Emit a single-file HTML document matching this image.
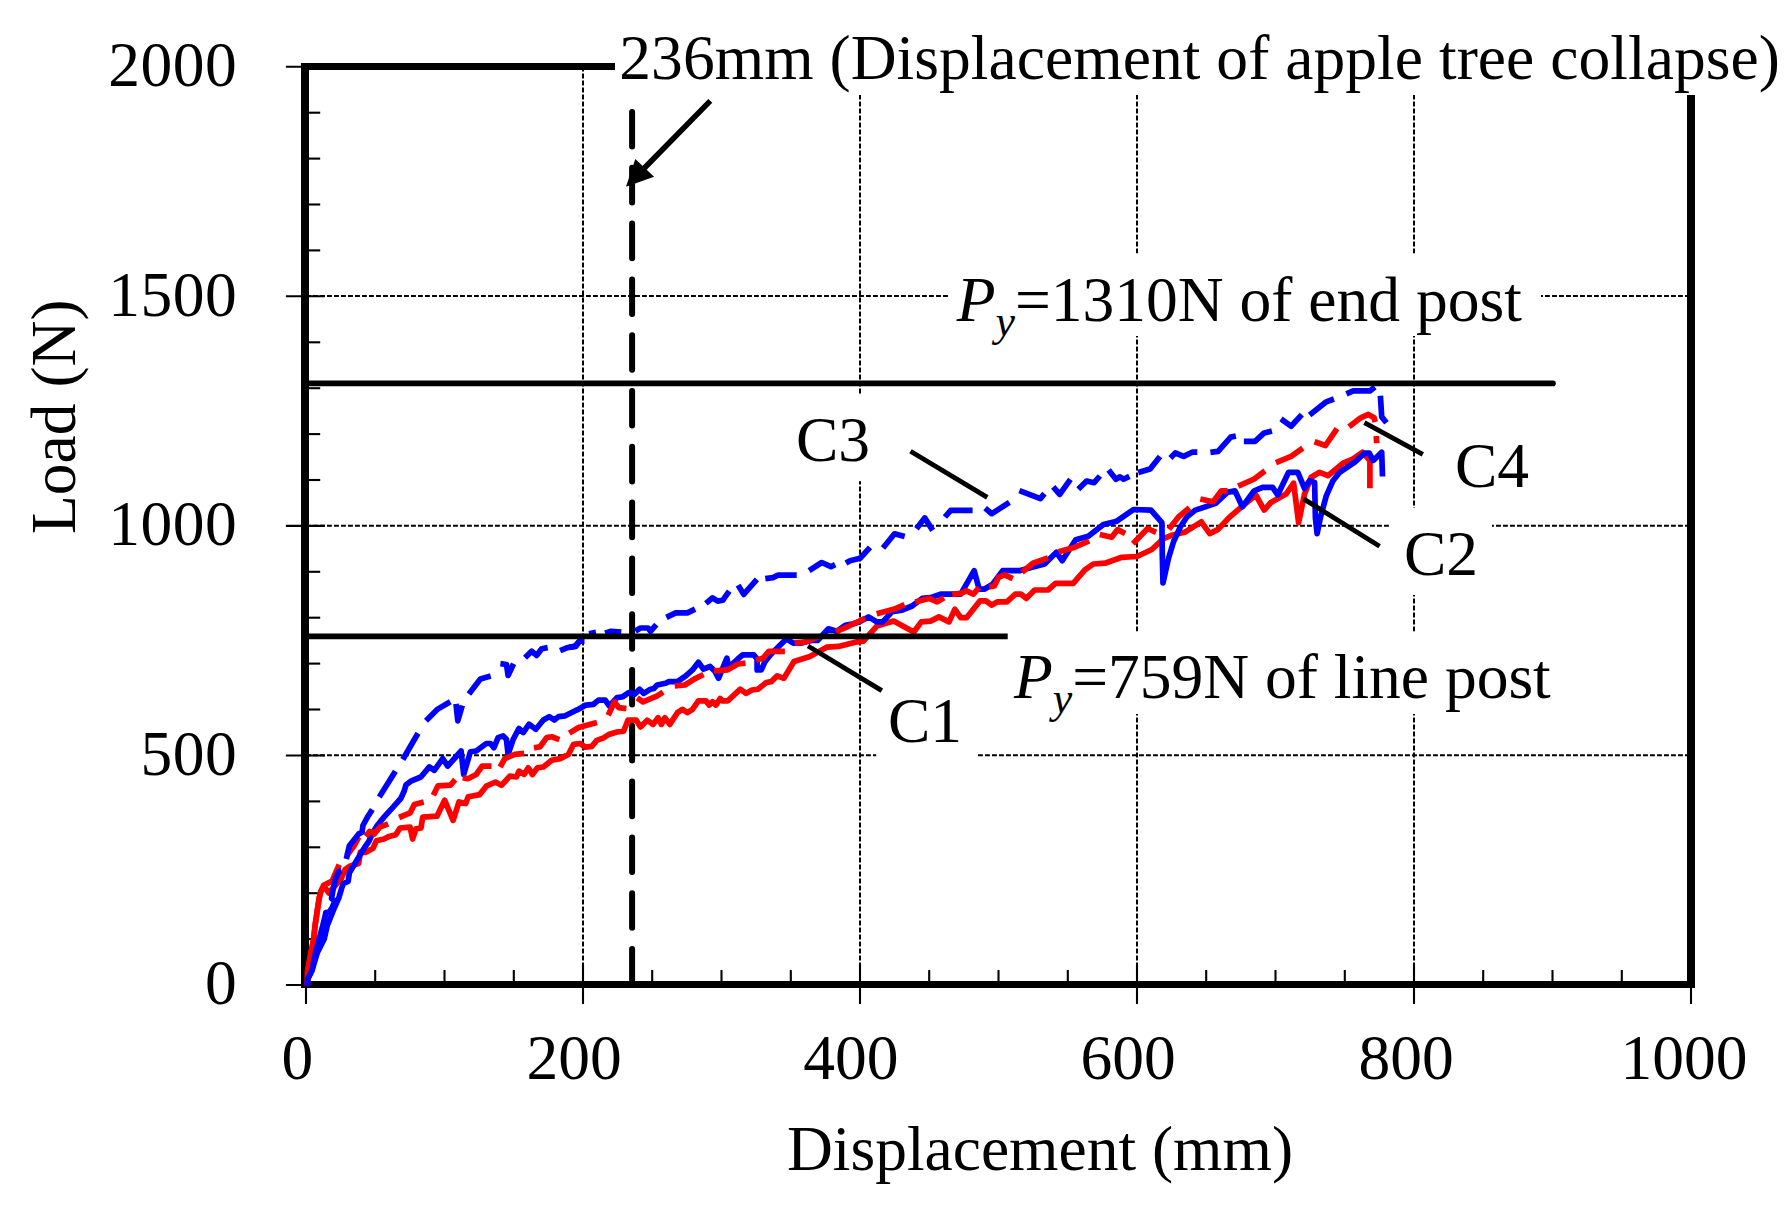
<!DOCTYPE html><html><head><meta charset="utf-8"><title>Load-Displacement</title>
<style>html,body{margin:0;padding:0;background:#fff}body{width:1788px;height:1211px;overflow:hidden}svg{display:block}text{font-family:"Liberation Serif","Times New Roman",serif;fill:#000}</style></head><body>
<svg width="1788" height="1211" viewBox="0 0 1788 1211">
<rect width="1788" height="1211" fill="#fff"/>
<g stroke="#000" stroke-width="2" stroke-dasharray="4.9 2.1" fill="none">
<line x1="583.0" y1="66.6" x2="583.0" y2="984.8"/>
<line x1="860.0" y1="66.6" x2="860.0" y2="984.8"/>
<line x1="1137.0" y1="66.6" x2="1137.0" y2="984.8"/>
<line x1="1414.0" y1="66.6" x2="1414.0" y2="984.8"/>
<line x1="306.0" y1="755.2" x2="1691.0" y2="755.2"/>
<line x1="306.0" y1="525.7" x2="1691.0" y2="525.7"/>
<line x1="306.0" y1="296.1" x2="1691.0" y2="296.1"/>
</g>
<path d="M301,63H1695V988H301Z M309,70V981H1687V70Z" fill="#000" fill-rule="evenodd"/>
<g stroke="#000" stroke-width="2.1" fill="none">
<line x1="285.9" y1="985.0" x2="324.9" y2="985.0"/>
<line x1="308" y1="939.1" x2="320.2" y2="939.1"/>
<line x1="308" y1="893.2" x2="320.2" y2="893.2"/>
<line x1="308" y1="847.3" x2="320.2" y2="847.3"/>
<line x1="308" y1="801.4" x2="320.2" y2="801.4"/>
<line x1="285.9" y1="755.5" x2="324.9" y2="755.5"/>
<line x1="308" y1="709.5" x2="320.2" y2="709.5"/>
<line x1="308" y1="663.6" x2="320.2" y2="663.6"/>
<line x1="308" y1="617.7" x2="320.2" y2="617.7"/>
<line x1="308" y1="571.8" x2="320.2" y2="571.8"/>
<line x1="285.9" y1="525.9" x2="324.9" y2="525.9"/>
<line x1="308" y1="480.0" x2="320.2" y2="480.0"/>
<line x1="308" y1="434.1" x2="320.2" y2="434.1"/>
<line x1="308" y1="388.2" x2="320.2" y2="388.2"/>
<line x1="308" y1="342.3" x2="320.2" y2="342.3"/>
<line x1="285.9" y1="296.3" x2="324.9" y2="296.3"/>
<line x1="308" y1="250.4" x2="320.2" y2="250.4"/>
<line x1="308" y1="204.5" x2="320.2" y2="204.5"/>
<line x1="308" y1="158.6" x2="320.2" y2="158.6"/>
<line x1="308" y1="112.7" x2="320.2" y2="112.7"/>
<line x1="285.9" y1="66.8" x2="324.9" y2="66.8"/>
<line x1="306.0" y1="964.5" x2="306.0" y2="1004"/>
<line x1="375.2" y1="970" x2="375.2" y2="982"/>
<line x1="444.5" y1="970" x2="444.5" y2="982"/>
<line x1="513.8" y1="970" x2="513.8" y2="982"/>
<line x1="583.0" y1="964.5" x2="583.0" y2="1004"/>
<line x1="652.2" y1="970" x2="652.2" y2="982"/>
<line x1="721.5" y1="970" x2="721.5" y2="982"/>
<line x1="790.8" y1="970" x2="790.8" y2="982"/>
<line x1="860.0" y1="964.5" x2="860.0" y2="1004"/>
<line x1="929.2" y1="970" x2="929.2" y2="982"/>
<line x1="998.5" y1="970" x2="998.5" y2="982"/>
<line x1="1067.8" y1="970" x2="1067.8" y2="982"/>
<line x1="1137.0" y1="964.5" x2="1137.0" y2="1004"/>
<line x1="1206.2" y1="970" x2="1206.2" y2="982"/>
<line x1="1275.5" y1="970" x2="1275.5" y2="982"/>
<line x1="1344.8" y1="970" x2="1344.8" y2="982"/>
<line x1="1414.0" y1="964.5" x2="1414.0" y2="1004"/>
<line x1="1483.2" y1="970" x2="1483.2" y2="982"/>
<line x1="1552.5" y1="970" x2="1552.5" y2="982"/>
<line x1="1621.8" y1="970" x2="1621.8" y2="982"/>
<line x1="1691.0" y1="964.5" x2="1691.0" y2="1004"/>
</g>
<line x1="632.1" y1="56.2" x2="632.1" y2="980" stroke="#000" stroke-width="6" stroke-linecap="round" stroke-dasharray="34.6 21.2"/>
<g fill="none" stroke-width="5.7" stroke-linejoin="round" stroke-linecap="butt">
<polyline stroke="#f00" points="307.4,985.2 307.6,971.0 311.0,952.7 313.7,939.0 315.1,925.4 317.8,907.2 319.2,898.2 320.7,891.8 324.0,886.0 328.7,893.0 334.0,887.0 341.3,878.5 345.2,869.3 350.3,865.9 358.7,863.4 360.4,852.0 365.4,852.4 373.0,848.2 376.4,840.7 384.0,839.0 389.0,836.4 395.8,834.8 400.0,828.0 410.1,827.2 412.6,839.0 416.0,828.9 421.0,828.0 422.7,817.1 437.0,816.2 444.6,800.2 453.1,820.4 459.0,801.9 465.7,803.6 468.2,796.8 479.6,794.6 486.3,786.2 495.5,782.0 501.4,785.4 509.8,776.2 516.5,777.0 519.0,771.1 524.1,774.5 528.3,767.8 532.4,774.5 537.5,767.8 543.4,767.0 551.7,760.2 560.1,758.6 568.5,754.4 573.6,744.3 580.3,743.5 585.1,747.1 591.8,746.3 596.8,740.4 603.6,737.9 608.6,734.5 617.0,732.0 623.7,731.1 627.9,720.2 636.3,720.2 640.5,726.9 647.2,720.2 653.1,724.4 658.1,717.7 661.4,724.4 664.8,717.7 669.8,724.4 677.4,712.7 682.4,709.3 687.4,712.7 692.5,709.3 698.4,700.9 705.9,700.9 709.3,705.1 712.6,701.8 716.0,705.1 720.2,698.4 722.7,700.9 727.7,700.9 740.3,689.2 746.2,693.4 752.0,690.0 757.9,689.2 766.3,682.5 771.3,681.6 777.2,675.8 783.9,678.3 794.0,661.5 809.9,656.5 826.7,647.2 838.5,646.4 855.2,642.2 863.4,641.2 876.8,626.1 893.6,621.1 913.8,632.0 921.3,621.9 930.5,621.1 938.9,616.9 949.0,621.9 954.9,609.3 960.7,617.7 966.6,617.7 980.0,600.9 985.9,600.9 991.8,605.1 997.7,601.8 1006.9,601.8 1015.3,594.2 1021.1,594.2 1026.2,598.4 1034.6,590.0 1048.0,590.0 1055.5,583.3 1073.2,583.3 1084.9,569.9 1093.3,564.0 1105.0,563.2 1121.8,557.3 1136.9,556.5 1151.8,549.5 1163.6,538.6 1172.0,535.2 1185.4,531.9 1201.3,521.8 1209.7,533.6 1218.1,529.4 1229.0,517.6 1240.7,507.6 1255.8,495.0 1264.2,510.1 1270.9,502.5 1286.0,494.1 1293.6,483.2 1298.6,522.7 1304.5,494.1 1311.2,477.3 1319.6,472.3 1328.0,475.7 1343.1,463.1 1353.2,458.9 1362.4,452.2 1369.9,460.6 1369.9,488.3"/>
<polyline stroke="#00f" points="307.4,985.2 307.7,979.0 311.9,970.8 317.3,952.7 324.2,939.0 327.3,925.4 331.0,916.3 334.5,907.5 338.7,898.2 341.4,889.1 343.2,883.6 348.1,881.5 349.4,872.7 354.5,864.2 359.5,855.8 364.6,847.4 368.8,841.5 372.2,833.9 377.2,825.5 384.0,817.1 392.4,807.8 400.8,798.5 404.2,791.0 405.9,785.1 410.8,781.2 420.9,777.0 429.3,766.9 434.3,770.3 442.7,758.6 447.7,766.1 461.1,751.0 463.7,774.5 470.4,751.8 476.2,751.0 486.3,743.5 490.5,743.5 493.9,747.7 498.1,737.6 503.1,735.9 506.4,739.3 508.1,754.4 513.2,739.3 519.0,728.4 523.2,732.6 529.1,724.2 535.8,729.2 543.4,720.0 549.2,716.6 554.3,720.0 558.5,716.6 565.2,715.8 575.2,710.7 578.4,709.3 585.9,705.1 593.5,704.3 598.5,700.1 605.2,700.1 609.4,706.0 617.0,697.6 622.9,696.7 628.7,692.6 634.6,694.2 639.6,689.2 643.8,693.4 650.5,689.2 653.9,688.4 657.2,685.0 665.6,683.3 669.0,681.6 677.4,681.6 685.8,675.8 692.5,669.9 698.4,662.3 703.4,669.1 710.1,666.5 715.1,671.6 718.5,678.3 726.9,658.2 728.6,667.4 737.8,659.0 742.8,654.8 753.7,654.8 757.1,659.0 757.1,669.9 761.3,669.9 764.6,662.3 770.5,654.8 779.7,645.6 786.4,638.9 793.2,643.1 801.5,643.1 811.6,640.5 817.5,640.5 828.4,628.8 836.8,631.3 845.2,625.4 853.6,623.8 860.0,621.5 868.5,616.9 876.8,621.9 882.7,621.9 891.9,611.8 902.0,610.2 912.1,606.0 922.1,598.4 930.5,597.6 940.6,594.2 960.7,594.2 974.2,570.7 979.2,589.2 984.2,589.2 992.6,584.2 1002.7,570.7 1019.5,570.7 1031.2,567.4 1044.6,564.0 1056.4,552.3 1062.2,560.7 1075.7,539.7 1088.3,536.3 1103.4,524.6 1116.8,521.2 1133.6,509.5 1151.0,510.1 1161.9,522.7 1162.3,555.4 1163.0,583.0 1168.6,558.0 1173.6,541.5 1180.3,527.0 1187.0,516.8 1195.4,510.1 1215.6,503.4 1227.3,492.4 1234.9,490.8 1242.4,506.7 1254.2,490.8 1262.6,487.4 1272.6,487.4 1277.7,495.0 1288.6,472.3 1297.8,472.3 1304.5,488.3 1309.5,480.7 1314.6,482.4 1315.4,517.6 1317.1,533.6 1320.4,517.6 1326.3,495.8 1333.0,480.7 1339.7,472.3 1354.8,462.2 1364.9,453.0 1369.1,453.0 1373.3,460.6 1381.7,452.2 1382.5,476.5"/>
<polyline stroke="#f00" points="307.4,986.2 307.6,971.0 311.0,952.7 313.7,939.0 315.1,925.4 317.8,907.2 319.2,898.2 320.7,891.8 323.6,885.3 327.0,883.6 332.1,881.1 335.5,873.0 339.2,864.6"/>
<polyline stroke="#f00" points="346.7,855.8 353.6,846.6 358.8,837.2"/>
<polyline stroke="#f00" points="365.7,836.4 369.7,831.4 373.0,832.2 374.3,833.9 379.8,827.2 388.2,823.8"/>
<polyline stroke="#f00" points="399.1,817.5 410.1,812.9 414.3,804.4 423.7,802.1"/>
<polyline stroke="#f00" points="433.3,795.2 437.9,785.9 450.5,785.1 455.2,779.7"/>
<polyline stroke="#f00" points="462.7,777.7 467.9,778.7 476.2,774.5 482.1,766.1 491.5,766.1"/>
<polyline stroke="#f00" points="500.1,767.0 504.8,758.6 514.8,754.4 524.2,753.4"/>
<polyline stroke="#f00" points="534.0,747.9 540.0,746.8 546.7,737.6 551.7,736.8 559.4,739.6"/>
<polyline stroke="#f00" points="569.3,733.1 578.6,727.5 586.8,725.3 597.0,722.5"/>
<polyline stroke="#f00" points="608.2,715.3 614.5,701.8 618.7,707.7 626.4,708.6"/>
<polyline stroke="#f00" points="637.2,697.8 643.0,701.8 657.2,695.9 663.1,692.1"/>
<polyline stroke="#f00" points="674.7,685.9 684.9,685.0 694.2,679.1 703.5,674.5"/>
<polyline stroke="#f00" points="714.1,670.8 727.7,669.9 737.8,664.0 745.5,663.1"/>
<polyline stroke="#f00" points="756.1,660.1 763.0,658.2 768.8,651.4 784.9,651.4"/>
<polyline stroke="#f00" points="794.7,643.2 804.9,642.2 818.9,636.6"/>
<polyline stroke="#f00" points="835.9,631.7 848.5,626.3 865.2,618.2"/>
<polyline stroke="#f00" points="876.7,613.8 893.6,609.3 904.6,604.7"/>
<polyline stroke="#f00" points="915.3,602.1 928.9,598.4 937.2,601.8 944.0,597.9"/>
<polyline stroke="#f00" points="952.2,594.3 960.7,593.4 966.6,590.9 973.3,594.2 979.1,587.6"/>
<polyline stroke="#f00" points="989.1,586.9 994.3,585.9 998.5,577.4 1004.4,574.9 1012.8,578.7"/>
<polyline stroke="#f00" points="1022.0,572.2 1032.9,563.2 1048.0,557.9"/>
<polyline stroke="#f00" points="1058.7,551.7 1074.8,547.2 1089.2,541.0"/>
<polyline stroke="#f00" points="1099.8,534.5 1111.7,537.2 1117.6,529.6 1125.2,533.5"/>
<polyline stroke="#f00" points="1132.9,543.8 1147.6,528.5 1156.1,532.3"/>
<polyline stroke="#f00" points="1168.8,529.3 1178.7,516.8 1189.5,507.8"/>
<polyline stroke="#f00" points="1200.3,499.0 1213.1,501.7 1221.4,490.8 1227.5,490.8"/>
<polyline stroke="#f00" points="1238.2,486.1 1254.2,479.0 1265.0,470.9"/>
<polyline stroke="#f00" points="1275.9,462.6 1291.1,456.4 1302.8,448.2"/>
<polyline stroke="#f00" points="1314.5,441.8 1325.5,445.5 1337.0,428.7"/>
<polyline stroke="#f00" points="1349.0,426.8 1360.7,417.8 1368.3,414.4 1374.1,417.8 1375.3,422.0"/>
<polyline stroke="#f00" points="1376.2,436.0 1376.7,443.1"/>
<polyline stroke="#00f" points="307.4,986.2 307.7,979.0 311.9,970.8 315.6,952.7 319.2,939.0 322.8,925.4 325.1,916.3 325.8,912.5 329.5,912.0 332.3,907.2 335.0,901.0 331.5,898.5 333.2,889.1 335.4,879.4 338.8,871.5 341.6,870.7"/>
<polyline stroke="#00f" points="346.3,859.0 349.4,845.7 358.7,833.9 362.1,832.2 362.9,825.5 368.0,816.2 372.3,809.5"/>
<polyline stroke="#00f" points="379.3,797.1 395.4,771.2"/>
<polyline stroke="#00f" points="402.8,759.5 418.0,733.3"/>
<polyline stroke="#00f" points="426.0,720.7 437.7,709.1 450.3,701.8"/>
<polyline stroke="#00f" points="456.0,703.9 457.8,720.8 462.3,705.5"/>
<polyline stroke="#00f" points="468.9,693.9 480.4,678.9 490.7,676.0"/>
<polyline stroke="#00f" points="500.4,663.7 506.5,664.5 508.1,675.5 513.6,663.7"/>
<polyline stroke="#00f" points="525.0,657.7 531.6,651.2 536.6,655.4 541.7,648.7 547.7,647.6"/>
<polyline stroke="#00f" points="560.1,650.7 566.8,647.8 575.2,646.1 579.4,641.1 584.5,641.1"/>
<polyline stroke="#00f" points="569.0,647.3 575.9,646.4 580.6,639.7"/>
<polyline stroke="#00f" points="589.0,633.7 596.0,632.3"/>
<polyline stroke="#00f" points="605.1,633.3 611.0,631.3 621.3,632.2"/>
<polyline stroke="#00f" points="635.4,631.0 640.5,628.0 648.0,628.0 650.5,631.3 656.3,624.6"/>
<polyline stroke="#00f" points="666.4,617.4 675.7,612.9 687.4,612.9 695.1,609.1"/>
<polyline stroke="#00f" points="705.9,603.4 712.6,597.8 717.7,601.1 722.7,600.3 729.2,591.1"/>
<polyline stroke="#00f" points="738.1,585.1 743.7,594.4 756.9,579.3"/>
<polyline stroke="#00f" points="765.3,578.6 773.0,577.6 778.1,575.1 796.7,575.1"/>
<polyline stroke="#00f" points="809.1,570.6 821.7,562.5 830.9,566.7 835.2,564.6"/>
<polyline stroke="#00f" points="845.9,563.0 850.0,560.7 860.1,558.2 870.0,547.4"/>
<polyline stroke="#00f" points="883.0,548.0 894.5,533.8 904.7,536.6"/>
<polyline stroke="#00f" points="916.5,528.8 924.7,517.9 932.7,530.4"/>
<polyline stroke="#00f" points="944.9,517.0 950.7,510.3 972.6,510.3"/>
<polyline stroke="#00f" points="985.1,508.1 991.8,513.7 1009.4,502.3"/>
<polyline stroke="#00f" points="1019.4,490.6 1040.4,498.6 1044.4,493.6"/>
<polyline stroke="#00f" points="1053.2,486.9 1059.7,494.4 1070.4,479.3"/>
<polyline stroke="#00f" points="1078.3,489.2 1086.6,481.0 1094.1,482.7 1099.9,476.0"/>
<polyline stroke="#00f" points="1108.6,470.1 1115.9,479.3 1120.0,476.8 1123.5,479.3 1129.4,476.4"/>
<polyline stroke="#00f" points="1138.2,472.6 1150.1,469.0 1160.0,456.4"/>
<polyline stroke="#00f" points="1170.4,457.9 1175.3,453.0 1183.7,456.4 1192.1,452.2 1197.3,452.2"/>
<polyline stroke="#00f" points="1210.4,452.3 1218.1,451.3 1230.7,437.1 1235.9,436.0"/>
<polyline stroke="#00f" points="1243.9,441.3 1255.0,441.3 1264.2,432.9 1271.9,431.0"/>
<polyline stroke="#00f" points="1281.0,418.9 1291.1,426.2 1301.8,414.6"/>
<polyline stroke="#00f" points="1309.6,415.0 1326.3,401.8 1333.9,399.0"/>
<polyline stroke="#00f" points="1346.4,393.9 1353.2,390.9 1369.9,390.9 1374.9,387.0"/>
<polyline stroke="#00f" points="1380.4,395.8 1381.7,416.9 1386.5,422.8"/>
</g>
<line x1="306.0" y1="383.4" x2="1553" y2="383.4" stroke="#000" stroke-width="5.6" stroke-linecap="round"/>
<line x1="306.0" y1="636.3" x2="1300" y2="636.3" stroke="#000" stroke-width="5.8"/>
<rect x="615" y="8" width="1173" height="87" fill="#fff"/>
<rect x="949" y="253.5" width="592" height="82.5" fill="#fff"/>
<rect x="1007.7" y="631.5" width="563" height="82.5" fill="#fff"/>
<rect x="781" y="394.8" width="103" height="86.4" fill="#fff"/>
<rect x="876.2" y="674.6" width="100" height="87.2" fill="#fff"/>
<rect x="1389" y="507.8" width="103" height="87.2" fill="#fff"/>
<rect x="1440" y="419.6" width="103" height="87.2" fill="#fff"/>
<g stroke="#000" stroke-width="4.8" fill="none">
<line x1="910.5" y1="451.3" x2="987.3" y2="497.4"/>
<line x1="808" y1="646" x2="881.8" y2="690.6"/>
<line x1="1303.6" y1="498.9" x2="1379.6" y2="546.2"/>
<line x1="1364.4" y1="422.7" x2="1422.8" y2="454.4"/>
</g>
<line x1="710.3" y1="100.9" x2="642" y2="170.5" stroke="#000" stroke-width="5.6"/>
<polygon points="626,186.7 635.3,159 654.1,176.8" fill="#000"/>
<g font-size="63.5">
<text id="yl0" x="237.2" y="1004.3" text-anchor="end" letter-spacing="0.5">0</text>
<text id="yl500" x="237.2" y="774.8" text-anchor="end" letter-spacing="0.5">500</text>
<text id="yl1000" x="237.2" y="545.2" text-anchor="end" letter-spacing="0.5">1000</text>
<text id="yl1500" x="237.2" y="315.6" text-anchor="end" letter-spacing="0.5">1500</text>
<text id="yl2000" x="237.2" y="86.1" text-anchor="end" letter-spacing="0.5">2000</text>
<text id="xl0" x="297.3" y="1079" text-anchor="middle">0</text>
<text id="xl200" x="574.2" y="1079" text-anchor="middle">200</text>
<text id="xl400" x="850.9" y="1079" text-anchor="middle">400</text>
<text id="xl600" x="1128.2" y="1079" text-anchor="middle">600</text>
<text id="xl800" x="1406.2" y="1079" text-anchor="middle">800</text>
<text id="xl1000" x="1683.9" y="1079" text-anchor="middle">1000</text>
<text id="xt" x="1040" y="1169.5" text-anchor="middle">Displacement (mm)</text>
<text id="yt" transform="translate(74.5,416.7) rotate(-90)" text-anchor="middle">Load (N)</text>
<text id="tt" x="619.3" y="78.9" letter-spacing="0.05">236mm (Displacement of apple tree collapse)</text>
<text id="p1" x="956.8" y="321.4"><tspan font-style="italic">P</tspan><tspan font-style="italic" font-size="43.8" dy="15">y</tspan><tspan dy="-15">=1310N of end post</tspan></text>
<text id="p2" x="1014" y="697.9"><tspan font-style="italic">P</tspan><tspan font-style="italic" font-size="43.8" dy="15">y</tspan><tspan dy="-15">=759N of line post</tspan></text>
<text id="c3" x="796" y="461.4">C3</text>
<text id="c1" x="888" y="742">C1</text>
<text id="c2" x="1404" y="575.2">C2</text>
<text id="c4" x="1455" y="487">C4</text>
</g>
</svg></body></html>
